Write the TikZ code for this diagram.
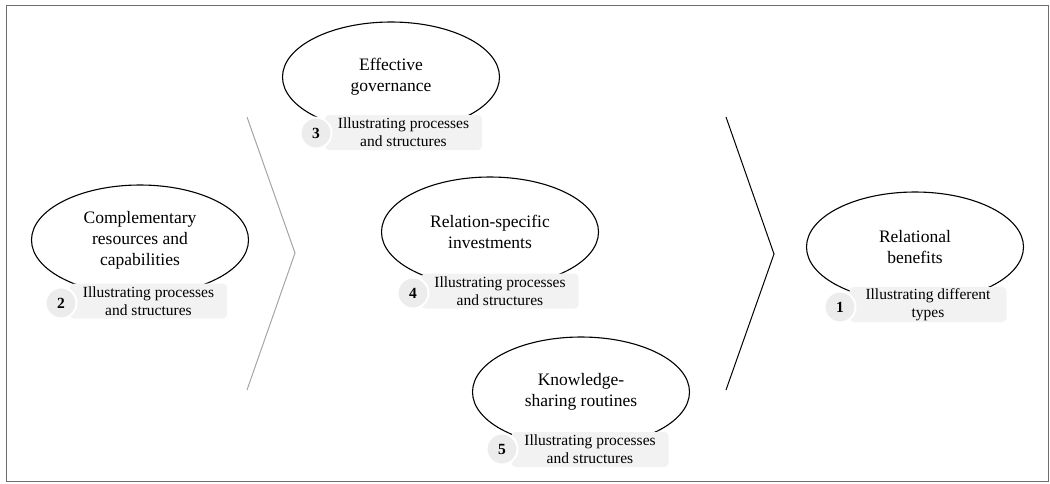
\documentclass[tikz,border=0pt]{standalone}
\usepackage{fontspec}
\setmainfont{Liberation Serif}
\usetikzlibrary{shapes.geometric}
\definecolor{lblfill}{RGB}{242,242,242}
\definecolor{numfill}{RGB}{236,236,236}
\definecolor{framegray}{RGB}{110,110,110}
\definecolor{chevgray}{RGB}{165,165,165}
\tikzset{
  ell/.style={ellipse, draw=black, line width=1.1pt, minimum width=217pt, minimum height=110pt, inner sep=0pt, align=center, font=\fontsize{17.5}{21}\selectfont},
  lbl/.style={rectangle, rounded corners=4pt, fill=lblfill, minimum width=157pt, minimum height=35pt, inner sep=0pt, align=center, font=\fontsize{15.5}{18}\selectfont},
  num/.style={circle, fill=numfill, draw=white, line width=2pt, minimum size=31pt, inner sep=0pt, font=\fontsize{15.5}{18}\selectfont\bfseries},
  chev/.style={line width=1pt}
}
\begin{document}
\begin{tikzpicture}[x=1pt,y=-1pt]
\useasboundingbox (0,0) rectangle (1050,483);
\draw[framegray, line width=1pt] (6,5) rectangle (1048,481);
% chevrons
\coordinate (c1a) at (247,117);
\coordinate (c1b) at (295,253);
\coordinate (c1c) at (247,390);
\draw[chev, chevgray] (c1a) -- (c1b) -- (c1c);
\coordinate (c2a) at (726,117);
\coordinate (c2b) at (774,254);
\coordinate (c2c) at (726,390);
\draw[chev, black] (c2a) -- (c2b) -- (c2c);
% ellipses
\node[ell] (e2) at (140,240) {Complementary\\resources and\\capabilities};
\node[ell] (e3) at (391,77) {Effective\\governance};
\node[ell] (e4) at (490,232) {Relation-specific\\investments};
\node[ell] (e5) at (581,392) {Knowledge-\\sharing routines};
\node[ell] (e1) at (915,247) {Relational\\benefits};
% labels
\node[lbl] (l2) at (148.5,301) {Illustrating processes\\and structures};
\node[lbl] (l3) at (403.5,132.5) {Illustrating processes\\and structures};
\node[lbl] (l4) at (500,291) {Illustrating processes\\and structures};
\node[lbl] (l5) at (590,449.5) {Illustrating processes\\and structures};
\node[lbl] (l1) at (928,304.5) {Illustrating different\\types};
% numbers
\node[num] (n2) at (61,303) {2};
\node[num] (n3) at (316,133) {3};
\node[num] (n4) at (413,293) {4};
\node[num] (n5) at (502,449) {5};
\node[num] (n1) at (840,307) {1};
\end{tikzpicture}
\end{document}
